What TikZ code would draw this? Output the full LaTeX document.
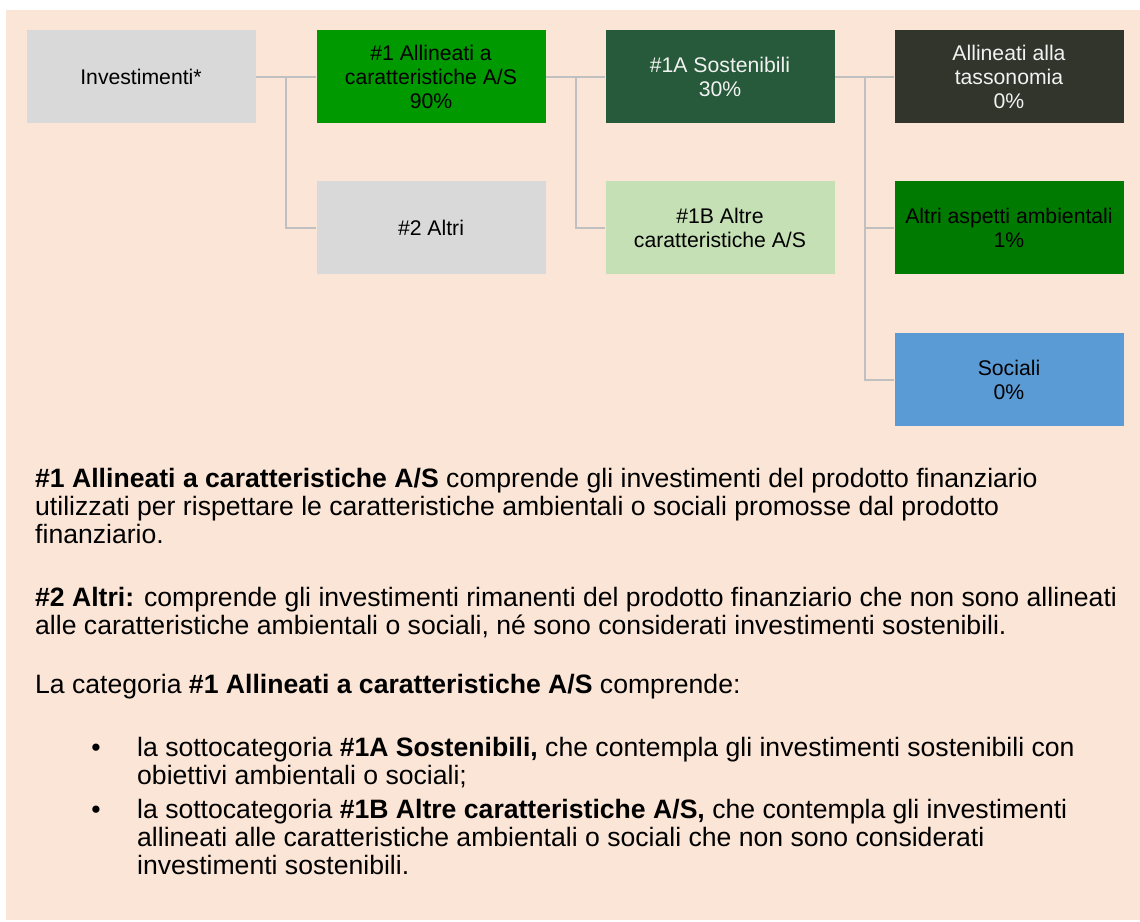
\documentclass[tikz,border=0pt]{standalone}
\usepackage{fontspec}
\setmainfont{Liberation Sans}
\usetikzlibrary{calc}
\definecolor{peach}{HTML}{FBE5D6}
\definecolor{greyb}{HTML}{D9D9D9}
\definecolor{greenA}{HTML}{009900}
\definecolor{darkgreen}{HTML}{265A3A}
\definecolor{darkolive}{HTML}{32352C}
\definecolor{lightgreen}{HTML}{C5E0B4}
\definecolor{midgreen}{HTML}{007A00}
\definecolor{skyblue}{HTML}{5B9BD5}
\definecolor{linegrey}{HTML}{C0C0C0}
\definecolor{whitetext}{HTML}{F2F2F2}
\tikzset{
  box/.style={minimum width=229pt, minimum height=93pt, inner sep=0pt, align=center,
    font=\fontsize{21.2}{24}\selectfont, text=black},
  conn/.style={draw=linegrey, line width=2pt},
  body/.style={anchor=base west, inner sep=0pt, font=\fontsize{26.6}{28}\selectfont, text=black},
  bul/.style={anchor=base, inner sep=0pt, font=\fontsize{26.6}{28}\selectfont, text=black}
}
\begin{document}
\begin{tikzpicture}[x=1pt,y=-1pt]
\useasboundingbox (0,0) rectangle (1140,921);
\fill[white] (0,0) rectangle (1140,921);
\fill[peach] (6,10) rectangle (1140,920);
% boxes
\node[box, fill=greyb] (inv) at (141,76.5) {Investimenti*};
\node[box, fill=greenA] (a1) at (431,76.5) {\#1 Allineati a\\caratteristiche A/S\\90\%};
\node[box, fill=darkgreen, text=whitetext] (a1a) at (720,76.5) {\#1A Sostenibili\\30\%};
\node[box, fill=darkolive, text=whitetext] (tax) at (1009,76.5) {Allineati alla\\tassonomia\\0\%};
\node[box, fill=greyb] (a2) at (431,227.5) {\#2 Altri};
\node[box, fill=lightgreen] (a1b) at (720,227.5) {\#1B Altre\\caratteristiche A/S};
\node[box, fill=midgreen] (env) at (1009,227.5) {Altri aspetti ambientali\\1\%};
\node[box, fill=skyblue] (soc) at (1009,379.5) {Sociali\\0\%};
% connectors
\draw[conn] (inv.east) -- (a1.west);
\draw[conn] ($(inv.east)!0.5!(a1.west)$) |- (a2.west);
\draw[conn] (a1.east) -- (a1a.west);
\draw[conn] ($(a1.east)!0.5!(a1a.west)$) |- (a1b.west);
\draw[conn] (a1a.east) -- (tax.west);
\draw[conn] ($(a1a.east)!0.5!(tax.west)$) |- (env.west);
\draw[conn] ($(a1a.east)!0.5!(tax.west)$) |- (soc.west);
% body text
\node[body] (l1) at (35,487) {\textbf{\#1 Allineati a caratteristiche A/S} comprende gli investimenti del prodotto finanziario};
\node[body] (l2) at (35,515) {utilizzati per rispettare le caratteristiche ambientali o sociali promosse dal prodotto};
\node[body] (l3) at (35,543) {finanziario.};
\node[body] (l4) at (35,606) {\textbf{\#2 Altri:} comprende gli investimenti rimanenti del prodotto finanziario che non sono allineati};
\node[body] (l5) at (35,634) {alle caratteristiche ambientali o sociali, né sono considerati investimenti sostenibili.};
\node[body] (l6) at (35,693) {La categoria \textbf{\#1 Allineati a caratteristiche A/S} comprende:};
\node[bul] (b1) at (96,756) {•};
\node[body] (l7) at (137,756) {la sottocategoria \textbf{\#1A Sostenibili,} che contempla gli investimenti sostenibili con};
\node[body] (l8) at (137,784) {obiettivi ambientali o sociali;};
\node[bul] (b2) at (96,818) {•};
\node[body] (l9) at (137,818) {la sottocategoria \textbf{\#1B Altre caratteristiche A/S,} che contempla gli investimenti};
\node[body] (l10) at (137,846) {allineati alle caratteristiche ambientali o sociali che non sono considerati};
\node[body] (l11) at (137,874) {investimenti sostenibili.};
\end{tikzpicture}
\end{document}
